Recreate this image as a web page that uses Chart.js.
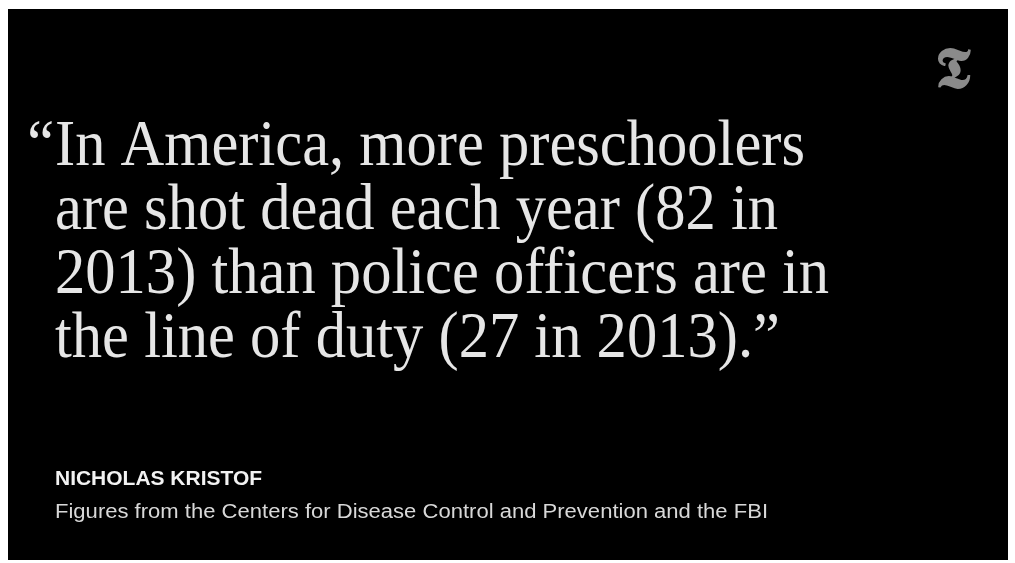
<!DOCTYPE html>
<html>
<head>
<meta charset="utf-8">
<title>In America, more preschoolers are shot dead</title>
<script src="https://cdn.jsdelivr.net/npm/chart.js@4/dist/chart.umd.min.js"></script>
<style>
  html, body { margin: 0; padding: 0; background: #fff; }
  #wrap { position: relative; width: 1015px; height: 563px; }
</style>
</head>
<body>
<div id="wrap"><canvas id="quoteCard"></canvas></div>
<script>
// what the quote compares
const groups = ['preschoolers', 'police officers'];
const deaths = [82, 27];
const years = [2013, 2013];
const author = 'NICHOLAS KRISTOF';
const source = 'Figures from the Centers for Disease Control and Prevention and the FBI';

// the quote, split the way the card wraps it
function quoteLines(d) {
    return [
        'In America, more ' + groups[0],
        'are shot dead each year (' + d[0] + ' in',
        years[0] + ') than ' + groups[1] + ' are in',
        'the line of duty (' + d[1] + ' in ' + years[1] + ').\u201D'
    ];
}

const cardPlugin = {
    id: 'card',
    beforeDraw(chart) {
        const ctx = chart.ctx;
        ctx.save();
        ctx.fillStyle = '#000';
        ctx.fillRect(8, 9, 1000, 551);
        ctx.restore();
    },
    afterDraw(chart) {
        const ctx = chart.ctx;
        const d = chart.data.datasets[0].data;
        const lines = quoteLines(d);
        const left = 55;

        ctx.save();
        ctx.textBaseline = 'alphabetic';
        ctx.textAlign = 'left';

        // quote
        ctx.font = '65px "Liberation Serif", serif';
        const sx = 750 / ctx.measureText(lines[0]).width;
        const baselines = [165, 229, 293, 357];
        ctx.fillStyle = '#e6e6e6';
        lines.forEach((txt, i) => {
            ctx.save();
            ctx.translate(left, baselines[i]);
            ctx.scale(sx, 1);
            if (i === 0) {
                const qw = ctx.measureText('\u201C').width;
                ctx.fillText('\u201C', -qw - 1, 0);
            }
            ctx.fillText(txt, 0, 0);
            ctx.restore();
        });

        // byline
        ctx.fillStyle = '#f2f2f2';
        ctx.font = 'bold 21px "Liberation Sans", Arial, sans-serif';
        let w = ctx.measureText(author).width;
        ctx.save();
        ctx.translate(left, 485);
        ctx.scale(207 / w, 1);
        ctx.fillText(author, 0, 0);
        ctx.restore();

        ctx.fillStyle = '#d8d8d8';
        ctx.font = '20px "Liberation Sans", Arial, sans-serif';
        w = ctx.measureText(source).width;
        ctx.save();
        ctx.translate(left, 518);
        ctx.scale(713 / w, 1);
        ctx.fillText(source, 0, 0);
        ctx.restore();

        // logo
        ctx.fillStyle = '#8a8a8a';
        ctx.textAlign = 'center';
        ctx.font = 'bold 58px "DejaVu Serif", "Liberation Serif", serif';
        ctx.fillText('\uD835\uDD7F', 953, 88);
        ctx.restore();
    }
};

new Chart(document.getElementById('quoteCard'), {
    type: 'bar',
    data: {
        labels: groups,
        datasets: [{
            label: 'Shot dead in ' + years[0],
            data: deaths,
            backgroundColor: 'rgba(0,0,0,0)'
        }]
    },
    options: {
        responsive: true,
        maintainAspectRatio: false,
        animation: false,
        events: [],
        layout: { padding: 0 },
        plugins: {
            legend: { display: false },
            tooltip: { enabled: false },
            title: { display: false }
        },
        scales: {
            x: { display: false },
            y: { display: false, beginAtZero: true }
        }
    },
    plugins: [cardPlugin]
});
</script>
</body>
</html>
